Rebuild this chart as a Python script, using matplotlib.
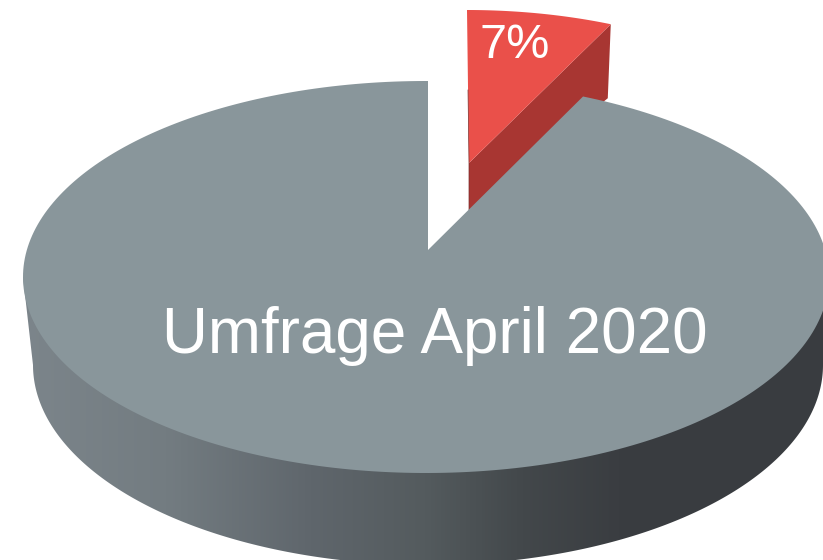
import numpy as np
import matplotlib
matplotlib.use("Agg")
import matplotlib.pyplot as plt
from matplotlib.colors import LinearSegmentedColormap
from matplotlib.patches import Polygon

# survey result, the picture only prints the 7%
labels = ["Umfrage April 2020", "7%"]
shares = [93, 7]

WIDTH, HEIGHT = 823, 560
plt.rcParams["font.family"] = ["Liberation Sans", "DejaVu Sans"]

# pie geometry in pixels
CX, CY, RX, RY = 426, 277, 403, 196
APEX_X, APEX_Y = 428, 250
BOTTOM_CX, BOTTOM_CY, BOTTOM_RX, BOTTOM_RY = 428, 365, 395, 200
# exploded slice sits further back, so it is a bit smaller
RED_CX, RED_CY, RED_RX, RED_RY = 467, 190, 369, 180
RED_APEX = (469, 163)
RED_APEX_BOTTOM = (469, 212)
RED_DEPTH = (-3, 74)
SWEEP_FIX = 0.91  # perspective squeezes the angle near the back of the pie


def ellipse_points(cx, cy, rx, ry, start, stop, n=300):
    # angle in degrees, clockwise from 12 o'clock
    t = np.radians(np.linspace(start, stop, n))
    return np.column_stack([cx + rx * np.sin(t), cy - ry * np.cos(t)])


fig = plt.figure(figsize=(WIDTH / 100, HEIGHT / 100), dpi=100)
ax = fig.add_axes([0, 0, 1, 1])

sweep = shares[1] / sum(shares) * 360 * SWEEP_FIX

# red slice, side first and top over it
red_arc = ellipse_points(RED_CX, RED_CY, RED_RX, RED_RY, 0, sweep)
red_end = red_arc[-1]
red_side = [RED_APEX, red_end, red_end + np.array(RED_DEPTH), RED_APEX_BOTTOM]
ax.add_patch(Polygon(red_side, closed=True, fc="#a83632", ec="none", zorder=1))
ax.add_patch(Polygon(np.vstack([red_arc, [RED_APEX]]), closed=True, fc="#ea504a", ec="none", zorder=2))
ax.plot([468, 469, 469], [90, 163, 210], color="#7a2d2a", lw=0.5, zorder=3)

# side wall with the left to right shading
bottom = ellipse_points(BOTTOM_CX, BOTTOM_CY, BOTTOM_RX, BOTTOM_RY, 270, 90)
side_pts = np.vstack([[CX - RX, CY], bottom, [CX + RX, CY]])
side = Polygon(side_pts, closed=True, fc="none", ec="none", transform=ax.transData)
ax.add_patch(side)
shade = LinearSegmentedColormap.from_list(
    "side",
    [(0.0, "#7c858b"), (0.18, "#737c81"), (0.36, "#5f666c"), (0.5, "#545b5e"),
     (0.62, "#43484b"), (0.74, "#3a3d41"), (1.0, "#393c40")],
)
im = ax.imshow(np.linspace(0, 1, 512).reshape(1, -1), cmap=shade, aspect="auto",
               extent=[20, 830, 570, 270], zorder=4)
im.set_clip_path(side)

# grey top face, with the notch the red slice came out of
grey_arc = ellipse_points(CX, CY, RX, RY, sweep, 360)
top = np.vstack([grey_arc, [[APEX_X, CY - RY], [APEX_X, APEX_Y]]])
ax.add_patch(Polygon(top, closed=True, fc="#89969b", ec="none", zorder=5))

ax.text(435, 353, labels[0], color="white", fontsize=45.9, ha="center", va="baseline", zorder=6)
ax.text(514.5, 58, labels[1], color="white", fontsize=35, ha="center", va="baseline", zorder=6)

ax.set_xlim(0, WIDTH)
ax.set_ylim(HEIGHT, 0)
ax.axis("off")
fig.savefig("out.png", dpi=100, facecolor="white")
plt.close(fig)
